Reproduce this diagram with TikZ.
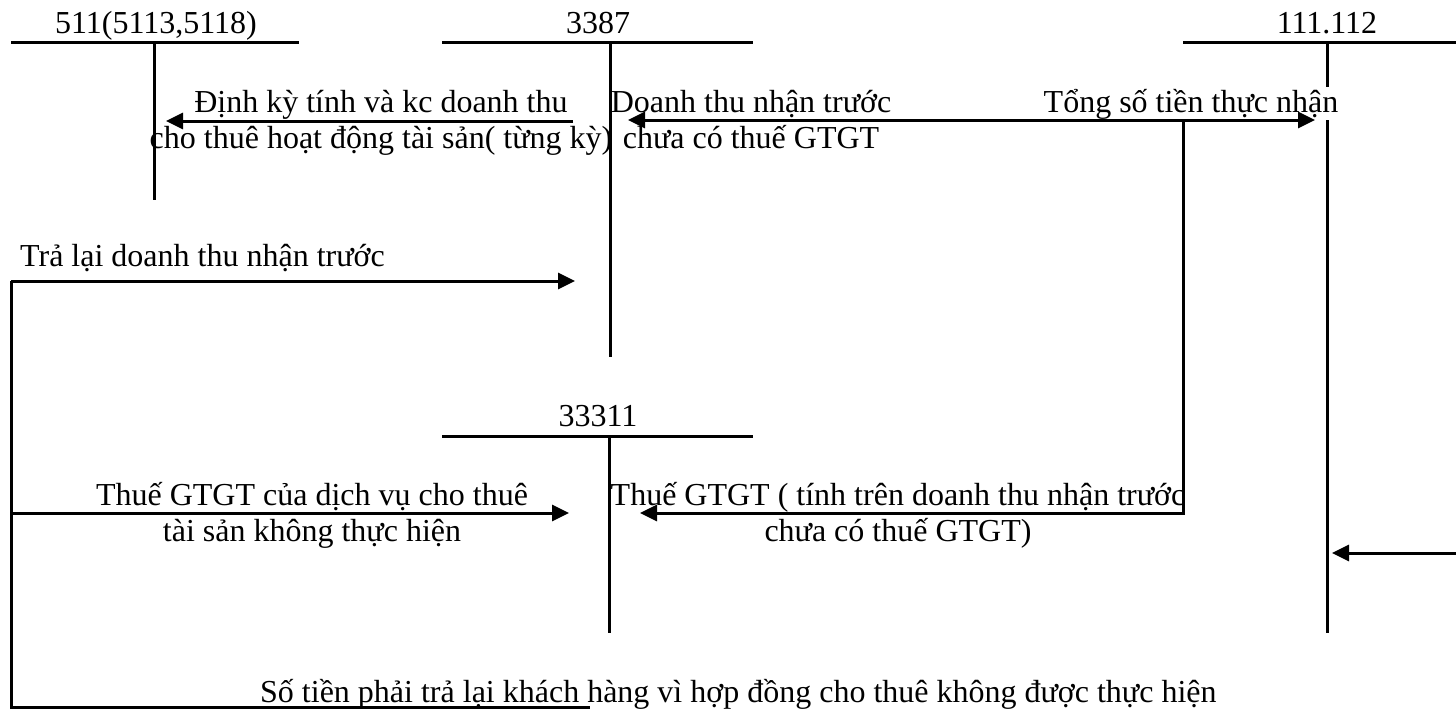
\documentclass[tikz,border=0pt]{standalone}
\usepackage{fontspec}
\setmainfont{Liberation Serif}
\usetikzlibrary{arrows.meta}
\begin{document}
\begin{tikzpicture}[x=1pt,y=-1pt,
  every node/.style={font=\fontsize{32}{36}\selectfont, inner sep=0pt},
  tline/.style={line width=3pt},
  flow/.style={line width=3pt, -{Triangle[length=17pt,width=16pt]}},
  bothway/.style={line width=3pt, {Triangle[length=17pt,width=16pt]}-{Triangle[length=17pt,width=16pt]}},
  plain/.style={line width=3pt},
  twoline/.style={anchor=base}]
\useasboundingbox (0,0) rectangle (1456,710);

% ---- T-accounts ----
% 511
\node[anchor=base] (acc511) at (156,33) {511(5113,5118)};
\coordinate (h511l) at (11,42);   \coordinate (h511r) at (299,42);
\coordinate (v511t) at (154,42);  \coordinate (v511b) at (154,200);
\draw[tline] (h511l) -- (h511r);
\draw[tline] (v511t) -- (v511b);
% 3387
\node[anchor=base] (acc3387) at (598,33) {3387};
\coordinate (h3387l) at (442,42); \coordinate (h3387r) at (753,42);
\coordinate (v3387t) at (610,42); \coordinate (v3387b) at (610,357);
\draw[tline] (h3387l) -- (h3387r);
\draw[tline] (v3387t) -- (v3387b);
% 111.112
\node[anchor=base] (acc111) at (1327,33) {111.112};
\coordinate (h111l) at (1183,42); \coordinate (h111r) at (1456,42);
\coordinate (v111t) at (1327,42); \coordinate (v111b) at (1327,633);
\draw[tline] (h111l) -- (h111r);
\draw[tline] (v111t) -- (v111b);
% 33311
\node[anchor=base] (acc33311) at (598,426) {33311};
\coordinate (h333l) at (442,436); \coordinate (h333r) at (753,436);
\coordinate (v333t) at (609,436); \coordinate (v333b) at (609,633);
\draw[tline] (h333l) -- (h333r);
\draw[tline] (v333t) -- (v333b);

% ---- labels ----
\node[twoline] (lblDinhky) at (381,112)
  {\begin{tabular}[t]{@{}c@{}}Định kỳ tính và kc doanh thu\\cho thuê hoạt động tài sản( từng kỳ)\end{tabular}};
\node[twoline] (lblDTNT) at (751,112)
  {\begin{tabular}[t]{@{}c@{}}Doanh thu nhận trước\\chưa có thuế GTGT\end{tabular}};
\node[anchor=base, fill=white, inner ysep=1.5pt] (lblTong) at (1191,112) {Tổng số tiền thực nhận};
\node[anchor=base west] (lblTraLai) at (20,266) {Trả lại doanh thu nhận trước};
\node[twoline] (lblThueDV) at (312,505)
  {\begin{tabular}[t]{@{}c@{}}Thuế GTGT của dịch vụ cho thuê\\tài sản không thực hiện\end{tabular}};
\node[twoline] (lblThueTinh) at (898,505)
  {\begin{tabular}[t]{@{}c@{}}Thuế GTGT ( tính trên doanh thu nhận trước\\chưa có thuế GTGT)\end{tabular}};
\node[anchor=base west] (lblSoTien) at (260,702)
  {Số tiền phải trả lại khách hàng vì hợp đồng cho thuê không được thực hiện};

% ---- connector end points ----
\coordinate (a1s) at (573,121);  \coordinate (a1e) at (166,121);
\coordinate (a2l) at (628,120);  \coordinate (a2r) at (1315,120);
\coordinate (br)  at (1183,120); \coordinate (brb) at (1183,513);
\coordinate (a3e) at (640,513);
\coordinate (lt)  at (11,281);   \coordinate (a4e) at (575,281);
\coordinate (lm)  at (11,513);   \coordinate (a5e) at (569,513);
\coordinate (lb)  at (11,707);   \coordinate (bend) at (590,707);
\coordinate (rs)  at (1456,553); \coordinate (a6e) at (1332,553);

% ---- connectors ----
\draw[flow] (a1s) -- (a1e);
\draw[bothway] (a2l) -- (a2r);
\draw[flow] (br) -- (brb) -- (a3e);
\draw[flow] (lt) -- (a4e);
\draw[plain] (lt) -- (lb) -- (bend);
\draw[flow] (lm) -- (a5e);
\draw[flow] (rs) -- (a6e);
\end{tikzpicture}
\end{document}
